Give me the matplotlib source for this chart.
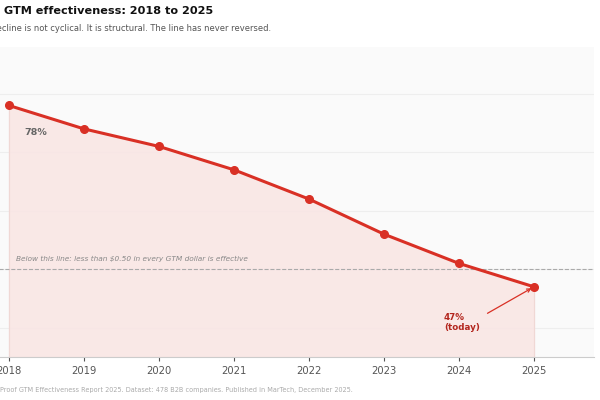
import matplotlib
matplotlib.use("Agg")
import matplotlib.pyplot as plt

# DATOS
years = [2018, 2019, 2020, 2021, 2022, 2023, 2024, 2025]
effectiveness = [78, 74, 71, 67, 62, 56, 51, 47]
threshold = 50

# COLORES
red = "#d93025"
dark_red = "#b3261e"
fill_red = "#f9e6e4"
bg = "#fafafa"

fig = plt.figure(figsize=(6, 4), dpi=100)
ax = fig.add_axes([-0.01, 0.1075, 1.0, 0.775])
ax.set_facecolor(bg)

ax.fill_between(years, effectiveness, 35, color=fill_red, alpha=0.9, zorder=1)
ax.plot(years, effectiveness, color=red, lw=2.2, marker="o", ms=5.5, zorder=3)
ax.axhline(threshold, color="#aaaaaa", lw=0.8, ls="--", zorder=2)
ax.vlines([years[0], years[-1]], 35, [effectiveness[0], effectiveness[-1]],
          color="#f0d8d5", lw=0.8, zorder=1)

ax.text(2018.1, 51.5, "Below this line: less than $0.50 in every GTM dollar is effective",
        fontsize=5.3, style="italic", color="#888888")
ax.text(2018.2, 73.0, "78%", fontsize=6.8, fontweight="bold", color="#666666")
ax.annotate("47%\n(today)", xy=(years[-1], effectiveness[-1]), xytext=(2023.8, 40.9),
            fontsize=6.3, fontweight="bold", color=dark_red, ha="left", va="center",
            arrowprops=dict(arrowstyle="->", color=red, lw=0.9,
                            relpos=(1.0, 0.75), shrinkA=4))

ax.set_xlim(2017.8, 2025.8)
ax.set_ylim(35, 88)
ax.set_xticks(years)
ax.set_yticks([40, 50, 60, 70, 80])
ax.tick_params(axis="x", labelsize=7.2, colors="#555555", length=3)
ax.tick_params(axis="y", left=False, labelleft=False)
ax.grid(axis="y", color="#eeeeee", lw=0.8, zorder=0)
ax.set_axisbelow(True)
for s in ["top", "right", "left"]:
    ax.spines[s].set_visible(False)
ax.spines["bottom"].set_color("#cccccc")

fig.text(0.006, 0.985, "GTM effectiveness: 2018 to 2025", fontsize=8.1,
         fontweight="bold", va="top", color="#111111")
fig.text(-0.045, 0.94, "The decline is not cyclical. It is structural. The line has never reversed.",
         fontsize=6.0, va="top", color="#555555")
fig.text(0.0, 0.025, "Proof GTM Effectiveness Report 2025. Dataset: 478 B2B companies. Published in MarTech, December 2025.",
         fontsize=4.7, color="#aaaaaa", va="center")

fig.savefig("out.png", dpi=100)
